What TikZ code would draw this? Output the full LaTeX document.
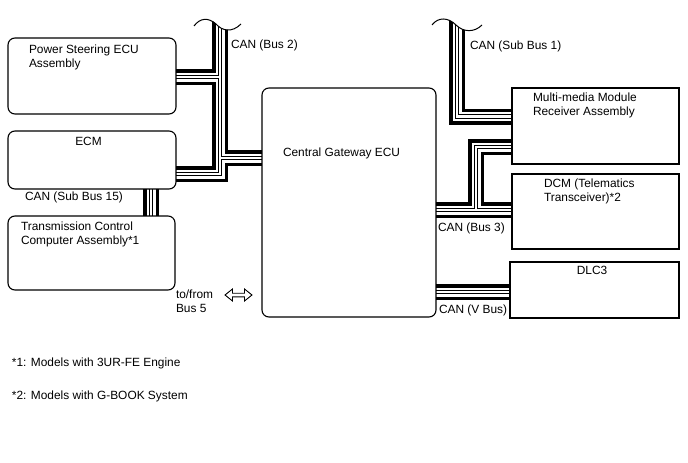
\documentclass[tikz,border=0pt]{standalone}
\usepackage{fontspec}
\setmainfont{Liberation Sans}
\pgfdeclarelayer{back}
\pgfdeclarelayer{buslayer}
\pgfsetlayers{back,buslayer,main}
\newcommand\drawbuses[1]{%
  \draw[#1] (b2) |- (ps.east |- 0,77);
  \draw[#1] (b2) |- (gw.west |- 0,158);
  \draw[#1] (b2) |- (ecm.east |- 0,174);
  \draw[#1] (151,0 |- ecm.south) -- (151,0 |- tcm.north);
  \draw[#1] (b1) |- (mm.west |- 0,116.5);
  \draw[#1] (gw.east |- 0,210) -- (dcm.west |- 0,210);
  \draw[#1] (gw.east |- 0,210) -- (476,210) |- (mm.west |- 0,147);
  \draw[#1] (gw.east |- 0,292) -- (dlc.west |- 0,292);
}
\begin{document}
\begin{tikzpicture}[x=1pt,y=-1pt,
  rbox/.style={draw=black, line width=1.1pt, rounded corners=7pt, inner sep=0pt, outer sep=0pt},
  sbox/.style={draw=black, line width=1.1pt, inner sep=0pt, outer sep=0pt},
  lbl/.style={inner sep=0pt, outer sep=0pt, font=\fontsize{11.9}{14}\selectfont, align=left, anchor=north west},
  lblc/.style={inner sep=0pt, outer sep=0pt, font=\fontsize{11.9}{14}\selectfont, anchor=north},
  busA/.style={line width=16pt, draw=black},
  busB/.style={line width=9pt, draw=white},
  busC/.style={line width=4.1pt, draw=black},
  busD/.style={line width=2.3pt, draw=white},
  wave/.style={draw=black, line width=1pt}]
\useasboundingbox (0,0) rectangle (688,463);
\begin{pgfonlayer}{back}
  \fill[white] (0,0) rectangle (688,463);
\end{pgfonlayer}

% boxes
\node[rbox, minimum width=168, minimum height=76] (ps) at (92,76) {};
\node[rbox, minimum width=168, minimum height=58] (ecm) at (92,160) {};
\node[rbox, minimum width=167, minimum height=74] (tcm) at (91.5,253) {};
\node[rbox, minimum width=174, minimum height=229] (gw) at (349,202.5) {};
\node[sbox, minimum width=167, minimum height=76] (mm) at (595.5,126) {};
\node[sbox, minimum width=167, minimum height=75] (dcm) at (595.5,211.5) {};
\node[sbox, minimum width=169, minimum height=56] (dlc) at (594.5,290) {};

\coordinate (b2) at (220,10);
\coordinate (b1) at (457,10);

% buses
\begin{pgfonlayer}{buslayer}
\begin{scope}
  \clip (0,463) -- (0,26) -- (194,26) .. controls (200,18) and (208,17) .. (216,24)
    .. controls (222,31) and (232,33) .. (241,24) -- (432,25)
    .. controls (438,17) and (448,17) .. (456,25)
    .. controls (463,32) and (474,33) .. (482,25) -- (688,25) -- (688,463) -- cycle;
  \drawbuses{busA}
  \drawbuses{busB}
  \drawbuses{busC}
  \drawbuses{busD}
\end{scope}
\end{pgfonlayer}

% break marks
\draw[wave] (194,26) .. controls (200,18) and (208,17) .. (216,24)
    .. controls (222,31) and (232,33) .. (241,24);
\draw[wave] (432,25) .. controls (438,17) and (448,17) .. (456,25)
    .. controls (463,32) and (474,33) .. (482,25);

% double arrow
\draw[line width=0.9pt, fill=white] (225,295) -- (232.5,289) -- (232.5,293.2) -- (244.5,293.2)
  -- (244.5,289) -- (252,295) -- (244.5,301) -- (244.5,296.8) -- (232.5,296.8) -- (232.5,301) -- cycle;

% texts
\node[lbl] (tps) at (29,44.7) {Power Steering ECU\\Assembly};
\node[lblc] (tecm) at (88.5,136.7) {ECM};
\node[lbl] (ttcm) at (21,221.7) {Transmission Control\\Computer Assembly*1};
\node[lbl] (tsb15) at (25,191.7) {CAN (Sub Bus 15)};
\node[lbl] (tb2) at (231,39.7) {CAN (Bus 2)};
\node[lbl] (tgw) at (283,147.7) {Central Gateway ECU};
\node[lbl] (tb5) at (176,289.7) {to/from\\Bus 5};
\node[lbl] (tmm) at (533,92.7) {Multi-media Module\\Receiver Assembly};
\node[lbl] (tdcm) at (544,178.7) {DCM (Telematics\\Transceiver)*2};
\node[lblc] (tdlc) at (592,265.7) {DLC3};
\node[lbl] (tsb1) at (470,40.7) {CAN (Sub Bus 1)};
\node[lbl] (tb3) at (438,222.7) {CAN (Bus 3)};
\node[lbl] (tvb) at (439,304.7) {CAN (V Bus)};
\node[lbl] (fn1) at (12,357.7) {*1: Models with 3UR-FE Engine};
\node[lbl] (fn2) at (12,390.7) {*2: Models with G-BOOK System};
\end{tikzpicture}
\end{document}
